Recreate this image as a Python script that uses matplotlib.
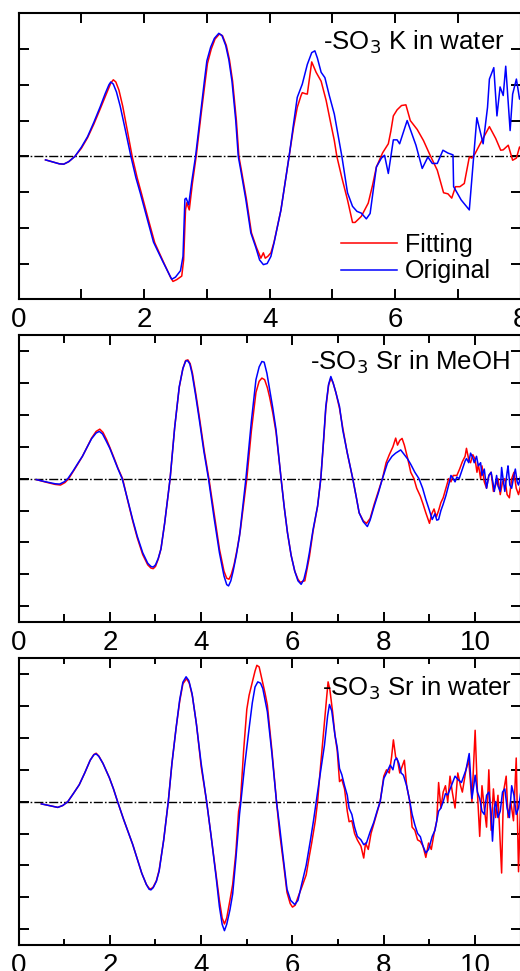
import numpy as np
import matplotlib
matplotlib.use("Agg")
import matplotlib.pyplot as plt
from matplotlib.ticker import MultipleLocator, FixedLocator

plt.rcParams['font.family'] = ['Liberation Sans', 'DejaVu Sans']

# ---------------- Panel 1: -SO3 K in water ----------------
k_orig_x = [0.43,0.55,0.65,0.72,0.8,0.9,1.0,1.1,1.2,1.3,1.38,1.44,1.47,1.51,1.56,1.62,1.7,1.79,1.87,1.94,2.05,2.15,2.3,2.4,2.44,2.5,2.58,2.62,2.65,2.67,2.71,2.76,2.82,2.9,2.96,3.0,3.06,3.12,3.19,3.24,3.3,3.35,3.4,3.46,3.5,3.54,3.62,3.7,3.78,3.84,3.9,3.96,4.02,4.07,4.18,4.31,4.38,4.44,4.52,4.6,4.67,4.72,4.76,4.82,4.88,4.95,5.03,5.15,5.24,5.32,5.39,5.46,5.54,5.6,5.7,5.78,5.83,5.89,5.97,6.03,6.07,6.19,6.33,6.43,6.52,6.59,6.67,6.76,6.84,6.92,6.93,7.05,7.18,7.3,7.4,7.47,7.5,7.57,7.62,7.67,7.72,7.76,7.83,7.87,7.93,7.98,8.04]
k_orig_y = [-0.10,-0.16,-0.21,-0.22,-0.15,0.0,0.25,0.55,0.95,1.38,1.75,2.0,2.08,2.02,1.8,1.4,0.75,0.0,-0.6,-1.03,-1.75,-2.4,-2.95,-3.3,-3.44,-3.38,-3.2,-2.8,-1.2,-1.17,-1.36,-0.7,0.0,1.2,2.1,2.67,3.05,3.3,3.44,3.38,3.1,2.7,2.1,1.0,0.0,-0.39,-1.2,-2.14,-2.55,-2.9,-3.03,-3.0,-2.8,-2.42,-1.5,0.0,0.9,1.65,2.02,2.57,2.9,2.95,2.75,2.35,2.2,1.7,1.18,0.0,-1.02,-1.4,-1.54,-1.59,-1.75,-1.6,-0.3,-0.05,0.03,-0.48,0.46,0.46,0.35,1.0,0.31,-0.34,-0.02,-0.2,-0.2,0.17,0.09,0.04,-0.85,-1.22,-1.5,1.08,0.35,1.37,2.16,2.48,1.13,1.94,1.7,2.52,0.72,1.74,2.16,1.6,1.86]
k_fit_x = [0.43,0.55,0.65,0.72,0.8,0.9,1.0,1.1,1.2,1.3,1.4,1.47,1.51,1.55,1.6,1.66,1.73,1.81,1.89,1.96,2.07,2.17,2.32,2.42,2.46,2.52,2.6,2.63,2.66,2.68,2.72,2.77,2.83,2.91,2.97,3.01,3.07,3.13,3.2,3.25,3.31,3.36,3.41,3.47,3.51,3.55,3.63,3.71,3.79,3.86,3.9,3.93,3.97,4.02,4.07,4.18,4.31,4.38,4.44,4.5,4.52,4.57,4.6,4.67,4.74,4.82,4.9,4.97,5.03,5.07,5.15,5.24,5.32,5.36,5.39,5.46,5.57,5.64,5.7,5.8,5.89,5.93,5.97,6.03,6.1,6.17,6.24,6.35,6.45,6.55,6.67,6.77,6.84,6.9,6.96,7.03,7.1,7.18,7.22,7.27,7.38,7.5,7.6,7.68,7.72,7.8,7.87,7.93,7.98,8.04]
k_fit_y = [-0.10,-0.16,-0.21,-0.22,-0.15,0.0,0.22,0.52,0.9,1.32,1.75,2.05,2.14,2.08,1.85,1.4,0.75,0.0,-0.6,-1.05,-1.78,-2.42,-3.0,-3.38,-3.5,-3.45,-3.35,-2.9,-1.5,-1.3,-1.5,-0.75,0.0,1.2,2.05,2.6,3.0,3.28,3.42,3.37,3.1,2.7,2.1,1.0,0.0,-0.39,-1.2,-2.14,-2.55,-2.85,-2.7,-2.85,-2.8,-2.7,-2.4,-1.5,0.0,0.8,1.37,1.7,1.78,1.75,1.74,2.64,2.35,2.1,1.56,0.95,0.44,0.0,-0.6,-1.22,-1.85,-1.85,-1.8,-1.68,-1.31,-0.8,-0.3,0.1,0.35,0.7,1.13,1.3,1.42,1.44,1.0,0.75,0.44,0.05,-0.39,-1.02,-1.05,-1.17,-0.85,-0.85,-0.76,-0.02,-0.05,0.07,0.44,0.83,0.5,0.17,0.18,0.31,-0.11,-0.05,0.26,0.1]

# ---------------- Panel 2: -SO3 Sr in MeOH ----------------
m_orig_x = [0.39,0.6,0.8,0.9,1.0,1.08,1.2,1.3,1.4,1.5,1.6,1.7,1.77,1.84,1.92,2.0,2.1,2.18,2.27,2.38,2.5,2.6,2.72,2.83,2.9,2.95,3.0,3.06,3.12,3.2,3.32,3.42,3.52,3.6,3.66,3.7,3.75,3.8,3.88,3.96,4.06,4.16,4.28,4.4,4.5,4.56,4.6,4.65,4.7,4.77,4.84,4.98,5.1,5.2,5.27,5.33,5.38,5.44,5.5,5.57,5.64,5.75,5.82,5.89,5.97,6.05,6.12,6.19,6.25,6.31,6.37,6.45,6.55,6.62,6.68,6.73,6.79,6.84,6.89,6.95,7.03,7.1,7.2,7.32,7.4,7.46,7.55,7.64,7.7,7.79,7.88,7.97,8.08,8.18,8.26,8.37,8.45,8.52,8.59,8.68,8.77,8.85,8.92,9.0,9.06,9.12,9.16,9.2,9.25,9.3,9.36,9.42,9.47,9.52,9.56,9.6,9.65,9.72,9.78,9.81,9.86,9.9,9.95,9.98,10.03,10.07,10.12,10.15,10.2,10.25,10.3,10.35,10.4,10.42,10.47,10.5,10.55,10.58,10.62,10.65,10.7,10.72,10.76,10.8,10.85,10.88,10.92,10.95,11.0]
m_orig_y = [-0.03,-0.1,-0.16,-0.17,-0.1,0.0,0.25,0.48,0.7,0.98,1.25,1.43,1.48,1.4,1.18,0.95,0.59,0.3,0.0,-0.6,-1.28,-1.8,-2.32,-2.65,-2.75,-2.77,-2.7,-2.5,-2.2,-1.4,0.0,1.6,2.88,3.45,3.68,3.7,3.6,3.3,2.6,1.84,0.85,0.0,-1.2,-2.32,-3.05,-3.32,-3.36,-3.2,-2.9,-2.4,-1.8,0.0,1.8,3.1,3.5,3.67,3.65,3.3,2.8,2.2,1.53,0.0,-0.9,-1.69,-2.4,-2.9,-3.2,-3.31,-3.15,-2.8,-2.32,-1.6,-0.86,0.0,1.2,2.26,2.95,3.2,3.0,2.7,2.26,1.53,0.81,0.0,-0.6,-1.07,-1.35,-1.5,-1.3,-0.86,-0.45,0.0,0.49,0.7,0.8,0.9,0.75,0.62,0.45,0.2,0.0,-0.3,-0.65,-1.0,-1.28,-1.1,-1.3,-1.28,-1.0,-0.8,-0.53,-0.2,0.1,0.0,-0.1,0.05,0.0,0.3,0.55,0.63,0.5,0.8,0.65,0.5,0.7,0.4,0.5,0.1,0.3,-0.3,0.1,0.2,-0.2,-0.4,0.1,-0.23,-0.4,0.35,-0.1,-0.4,0.2,0.4,-0.2,-0.3,0.1,0.3,-0.1,-0.2,0.1]
m_fit_x = [0.39,0.6,0.8,0.92,1.02,1.1,1.2,1.3,1.4,1.5,1.6,1.7,1.78,1.85,1.93,2.0,2.1,2.18,2.28,2.38,2.5,2.6,2.72,2.83,2.9,2.95,3.0,3.06,3.12,3.2,3.32,3.42,3.52,3.6,3.66,3.71,3.76,3.81,3.89,3.97,4.07,4.17,4.29,4.4,4.5,4.56,4.61,4.66,4.72,4.79,4.86,5.0,5.1,5.2,5.27,5.33,5.39,5.45,5.5,5.57,5.64,5.75,5.82,5.89,5.97,6.05,6.12,6.17,6.22,6.27,6.31,6.37,6.45,6.55,6.62,6.68,6.73,6.79,6.84,6.89,6.95,7.03,7.1,7.2,7.32,7.4,7.46,7.55,7.62,7.7,7.79,7.88,7.97,8.05,8.12,8.2,8.26,8.3,8.35,8.4,8.45,8.52,8.59,8.66,8.72,8.8,8.86,8.92,9.0,9.05,9.1,9.15,9.2,9.25,9.3,9.36,9.42,9.47,9.52,9.6,9.66,9.72,9.78,9.81,9.86,9.9,9.95,10.0,10.04,10.07,10.12,10.15,10.2,10.25,10.3,10.35,10.4,10.45,10.5,10.55,10.6,10.65,10.7,10.75,10.8,10.85,10.9,10.95,11.0]
m_fit_y = [-0.03,-0.11,-0.18,-0.2,-0.12,0.0,0.23,0.46,0.7,0.98,1.27,1.48,1.55,1.45,1.22,0.98,0.62,0.32,0.0,-0.62,-1.32,-1.85,-2.38,-2.7,-2.8,-2.82,-2.75,-2.52,-2.2,-1.4,0.0,1.6,2.86,3.45,3.7,3.72,3.6,3.3,2.6,1.84,0.85,0.0,-1.15,-2.2,-2.9,-3.12,-3.15,-3.0,-2.7,-2.2,-1.6,0.0,1.5,2.7,3.05,3.15,3.1,2.85,2.55,2.05,1.45,0.0,-0.9,-1.69,-2.4,-2.9,-3.15,-3.25,-3.22,-3.2,-2.9,-2.45,-1.65,-0.86,0.0,1.15,2.2,2.92,3.15,3.0,2.7,2.2,1.6,0.8,0.0,-0.6,-1.07,-1.32,-1.4,-1.25,-0.8,-0.4,0.0,0.5,0.75,1.0,1.27,1.05,1.2,1.26,1.05,0.65,0.2,0.0,-0.3,-0.55,-0.8,-1.07,-1.4,-1.1,-0.95,-1.2,-1.0,-0.75,-0.6,-0.3,0.0,-0.1,0.1,0.1,0.3,0.53,0.7,0.95,0.6,0.5,0.75,0.6,0.2,0.45,0.0,0.4,-0.1,-0.3,0.1,0.2,-0.4,-0.2,0.0,-0.5,-0.1,0.0,-0.5,-0.6,0.0,0.2,-0.3,-0.5,-0.2]

# ---------------- Panel 3: -SO3 Sr in water ----------------
w_orig_x = [0.5,0.7,0.86,0.97,1.08,1.2,1.33,1.45,1.57,1.65,1.7,1.76,1.85,1.99,2.08,2.17,2.3,2.4,2.5,2.6,2.7,2.8,2.86,2.9,2.95,3.02,3.08,3.18,3.28,3.36,3.45,3.53,3.6,3.67,3.73,3.8,3.89,4.0,4.12,4.22,4.33,4.4,4.46,4.51,4.56,4.63,4.69,4.76,4.84,4.87,4.95,5.05,5.12,5.18,5.24,5.3,5.35,5.45,5.55,5.65,5.72,5.78,5.88,5.96,6.05,6.12,6.2,6.3,6.4,6.46,6.52,6.6,6.7,6.77,6.81,6.86,6.93,6.98,7.03,7.08,7.14,7.2,7.24,7.3,7.36,7.42,7.5,7.56,7.62,7.7,7.78,7.85,7.92,8.0,8.06,8.14,8.2,8.24,8.28,8.33,8.38,8.43,8.5,8.57,8.62,8.68,8.74,8.8,8.86,8.92,8.98,9.06,9.12,9.2,9.25,9.3,9.35,9.4,9.48,9.56,9.62,9.7,9.8,9.87,9.93,9.97,10.0,10.05,10.1,10.15,10.2,10.25,10.3,10.35,10.38,10.42,10.45,10.5,10.55,10.6,10.65,10.7,10.75,10.8,10.85,10.9,10.95,11.0]
w_orig_y = [-0.07,-0.13,-0.18,-0.12,0.0,0.25,0.53,0.9,1.3,1.47,1.5,1.42,1.2,0.75,0.4,0.0,-0.55,-0.95,-1.34,-1.8,-2.25,-2.6,-2.75,-2.77,-2.7,-2.5,-2.18,-1.2,0.0,1.2,2.3,3.2,3.75,3.92,3.8,3.4,2.5,1.2,0.0,-1.1,-2.4,-3.3,-3.85,-4.05,-3.85,-3.4,-2.9,-1.8,-0.4,0.0,1.1,2.3,3.1,3.6,3.76,3.72,3.55,2.82,1.5,0.0,-0.8,-1.55,-2.75,-3.1,-3.23,-3.1,-2.6,-2.0,-1.15,-0.6,0.0,0.8,1.77,2.7,3.05,2.85,2.09,1.7,1.04,0.85,0.5,0.2,-0.21,-0.4,-0.8,-1.09,-1.2,-1.35,-1.3,-0.95,-0.65,-0.31,0.0,0.73,0.9,1.15,1.0,1.3,1.37,1.2,0.9,0.83,0.5,0.0,-0.4,-0.73,-1.0,-1.1,-1.4,-1.61,-1.5,-1.09,-0.9,-0.3,-0.2,0.0,0.25,0.21,0.5,0.8,0.7,0.6,1.0,1.51,0.1,0.5,0.83,0.3,0.1,-0.3,-0.4,0.2,0.3,-0.4,-1.24,-0.2,0.0,-0.5,-0.3,0.3,0.4,-0.2,-0.5,0.5,0.2,-0.4,-0.2,0.3]
w_fit_x = [0.5,0.7,0.86,0.97,1.08,1.2,1.33,1.45,1.57,1.65,1.7,1.76,1.85,1.99,2.08,2.17,2.3,2.4,2.5,2.6,2.7,2.8,2.86,2.9,2.95,3.02,3.08,3.18,3.28,3.36,3.45,3.53,3.6,3.68,3.74,3.81,3.9,4.0,4.12,4.22,4.33,4.4,4.46,4.51,4.56,4.63,4.69,4.76,4.82,4.86,4.93,5.0,5.05,5.12,5.18,5.22,5.27,5.33,5.4,5.45,5.55,5.65,5.72,5.8,5.88,5.95,6.0,6.06,6.12,6.2,6.3,6.37,6.42,6.5,6.55,6.62,6.7,6.75,6.78,6.82,6.88,6.93,6.98,7.03,7.08,7.14,7.2,7.24,7.3,7.36,7.42,7.5,7.56,7.6,7.66,7.72,7.78,7.85,7.92,8.0,8.06,8.12,8.17,8.21,8.26,8.3,8.35,8.4,8.45,8.5,8.57,8.62,8.68,8.74,8.8,8.86,8.92,8.98,9.04,9.1,9.16,9.2,9.25,9.3,9.35,9.4,9.45,9.5,9.56,9.62,9.68,9.72,9.8,9.86,9.93,10.0,10.05,10.1,10.15,10.2,10.25,10.3,10.35,10.4,10.45,10.5,10.58,10.62,10.68,10.72,10.78,10.84,10.9,10.95,11.0]
w_fit_y = [-0.07,-0.13,-0.18,-0.12,0.0,0.25,0.53,0.9,1.3,1.48,1.52,1.43,1.2,0.75,0.4,0.0,-0.55,-0.95,-1.34,-1.8,-2.25,-2.6,-2.72,-2.74,-2.68,-2.48,-2.15,-1.2,0.0,1.2,2.3,3.15,3.7,3.86,3.72,3.3,2.4,1.1,0.0,-1.1,-2.3,-3.1,-3.65,-3.84,-3.65,-3.1,-2.6,-1.6,-0.3,0.0,1.6,2.9,3.34,3.75,4.1,4.28,4.23,3.85,3.4,3.03,1.6,0.0,-1.0,-1.9,-2.85,-3.2,-3.31,-3.25,-3.0,-2.7,-2.3,-1.7,-1.3,-0.6,0.0,1.2,2.51,3.3,3.76,3.5,2.8,2.09,1.6,0.63,0.7,0.4,-0.3,-0.63,-0.6,-1.0,-1.2,-1.4,-1.77,-1.3,-1.5,-1.0,-0.7,-0.35,0.0,0.8,1.0,0.9,1.4,1.94,1.4,1.3,0.9,1.1,1.3,0.5,0.0,-0.8,-0.9,-1.2,-1.25,-1.4,-1.75,-1.3,-1.5,-1.0,-0.6,0.6,-0.2,0.3,0.5,0.0,0.8,0.3,-0.2,0.9,0.5,0.3,1.0,1.3,0.0,2.24,0.3,-1.09,0.5,-0.2,-0.8,1.0,-0.9,0.4,-0.5,0.2,-2.24,0.3,0.8,-0.5,0.0,-0.6,1.37,-2.2,0.2]

panels = [
    dict(ox=k_orig_x, oy=k_orig_y, fx=k_fit_x, fy=k_fit_y, label="-SO$_3$ K in water",
         xmax=8, ylim=4, yticks=[-3, -2, -1, 0, 1, 2, 3], top=13.3, bottom=299.3, ty=0.9, tx=0.968,
         minor_len=7.5, legend=True),
    dict(ox=m_orig_x, oy=m_orig_y, fx=m_fit_x, fy=m_fit_y, label="-SO$_3$ Sr in MeOH",
         xmax=11, ylim=4.5, yticks=[-4, -3, -2, -1, 0, 1, 2, 3, 4], top=335.0, bottom=622.3, ty=0.905, tx=0.979,
         minor_len=5.5, legend=False),
    dict(ox=w_orig_x, oy=w_orig_y, fx=w_fit_x, fy=w_fit_y, label="-SO$_3$ Sr in water",
         xmax=11, ylim=4.5, yticks=[-4, -3, -2, -1, 0, 1, 2, 3, 4], top=658.3, bottom=945.0, ty=0.895, tx=0.983,
         minor_len=4.0, legend=False),
]

W, H = 520, 971
fig = plt.figure(figsize=(W / 100, H / 100), dpi=100)
left_px, right_px = 18.5, 520.8

for p in panels:
    ax = fig.add_axes([left_px / W, (H - p['bottom']) / H, (right_px - left_px) / W, (p['bottom'] - p['top']) / H])
    ax.axhline(0, color='black', lw=1.0, linestyle=(0, (6.5, 1.5, 1.2, 1.5)), zorder=1)
    ax.plot(p['fx'], p['fy'], color='#ff0000', lw=1.1, label='Fitting', zorder=2)
    ax.plot(p['ox'], p['oy'], color='#0000ff', lw=1.1, label='Original', zorder=3)
    ax.set_xlim(0, p['xmax'])
    ax.set_ylim(-p['ylim'], p['ylim'])
    ax.xaxis.set_major_locator(MultipleLocator(2))
    ax.xaxis.set_minor_locator(MultipleLocator(1))
    ax.yaxis.set_major_locator(FixedLocator(p['yticks']))
    ax.set_yticklabels([])
    ax.tick_params(which='both', direction='in', top=True, right=True, width=1.4,
                   labelsize=20, pad=5.5)
    ax.tick_params(which='major', length=7.5)
    ax.tick_params(which='minor', length=p['minor_len'])
    for s in ax.spines.values():
        s.set_linewidth(1.5)
    ax.text(p['tx'], p['ty'], p['label'], transform=ax.transAxes, ha='right', va='center', fontsize=18.5)
    if p['legend']:
        ax.legend(loc='upper left', bbox_to_anchor=(0.642, 0.232), frameon=False, fontsize=18,
                  handlelength=2.25, handletextpad=0.32, labelspacing=0.1, borderpad=0.0,
                  borderaxespad=0.0)

fig.savefig('out.png', dpi=100)
